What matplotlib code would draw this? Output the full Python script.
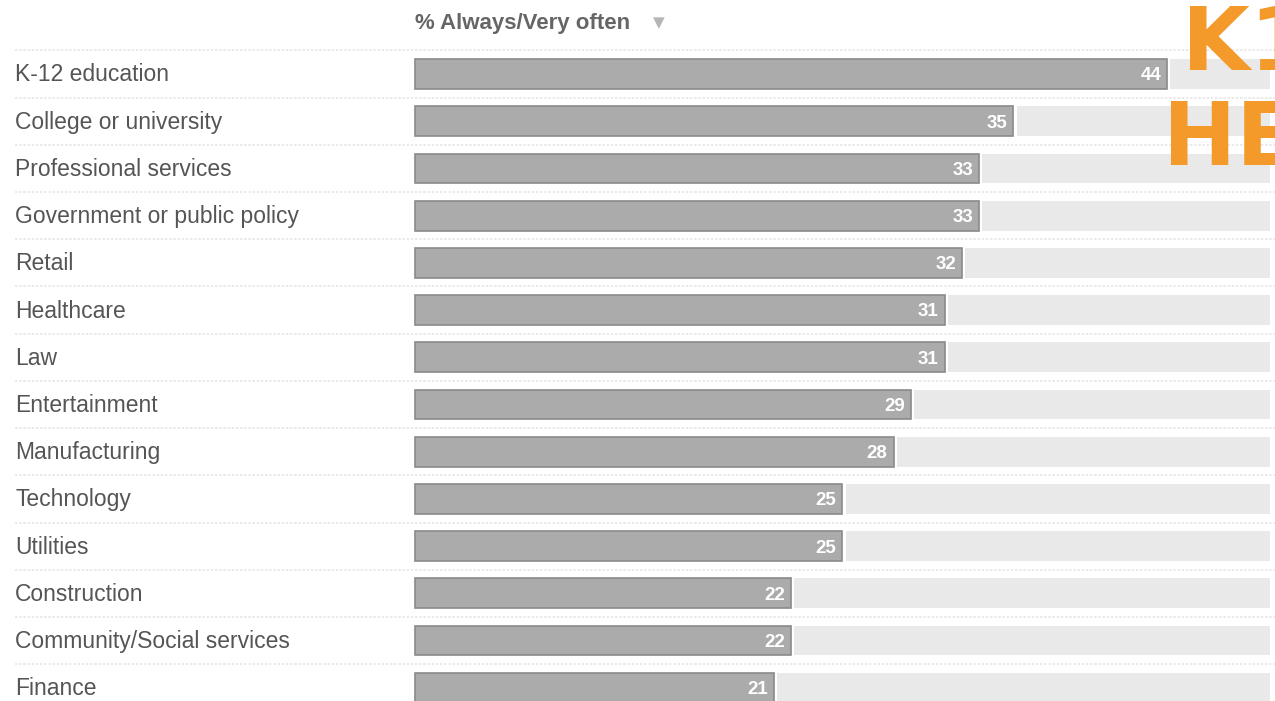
import matplotlib.pyplot as plt
import numpy as np

# Industries and share answering "Always/Very often"
industries = ['K-12 education', 'College or university', 'Professional services',
              'Government or public policy', 'Retail', 'Healthcare', 'Law',
              'Entertainment', 'Manufacturing', 'Technology', 'Utilities',
              'Construction', 'Community/Social services', 'Finance']
pct = [44, 35, 33, 33, 32, 31, 31, 29, 28, 25, 25, 22, 22, 21]
track_max = 50

header = '% Always/Very often'
overlay_lines = ['K12', 'HE']

plt.rcParams['font.family'] = ['Liberation Sans', 'DejaVu Sans']

fig = plt.figure(figsize=(12.75, 7.01), dpi=100)
ax = fig.add_axes([0, 0, 1, 1])

y = np.arange(len(industries))
pct_arr = np.array(pct, dtype=float)
gap = 0.2

# light track to the right of each bar, then the value bar
ax.barh(y, track_max - pct_arr - gap, height=0.63, left=pct_arr + gap,
        color='#e9e9e9', zorder=1)
ax.barh(y, pct_arr, height=0.63, color='#ababab', edgecolor='#8a8a8a',
        linewidth=1.2, zorder=2)

for yi, name, v in zip(y, industries, pct):
    ax.text(-23.4, yi + 0.02, name, fontsize=16.5, color='#555555', va='center', ha='left')
    ax.text(v - 0.35, yi + 0.04, str(v), fontsize=13.5, color='white', fontweight='bold',
            va='center', ha='right', zorder=3)

# faint separators between rows
for yi in np.arange(-0.5, len(industries), 1.0):
    ax.plot([-23.4, 51], [yi, yi], color='#e6e6e6', lw=1.2, ls=(0, (1.5, 1)), zorder=0)

# column header
ax.text(0, -1.08, header, fontsize=16, fontweight='bold', color='#666666',
        va='center', ha='left')
ax.text(13.95, -1.08, '\u25BC', fontsize=11, color='#b5b5b5', va='center', ha='left',
        family=['DejaVu Sans'])

# orange heading cut off at the right edge
ax.text(44.9, -0.085, overlay_lines[0], fontsize=63, fontweight='bold', color='#f39a2b',
        va='baseline', ha='left', zorder=5, family=['DejaVu Sans'])
ax.text(43.75, 1.93, overlay_lines[1], fontsize=63, fontweight='bold', color='#f39a2b',
        va='baseline', ha='left', zorder=5, family=['DejaVu Sans'])

ax.set_xlim(-24.28, 50.32)
ax.set_ylim(13.28, -1.568)
ax.axis('off')

fig.savefig('out.png', dpi=100)
